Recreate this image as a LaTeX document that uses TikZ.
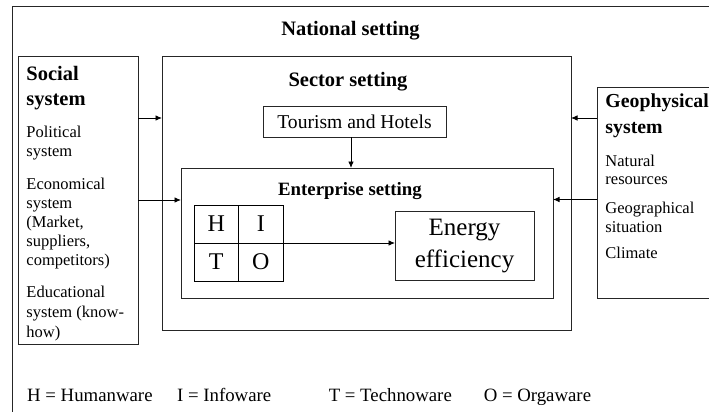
\documentclass[tikz,border=0pt]{standalone}
\usepackage{fontspec}
\setmainfont{Liberation Serif}
\usetikzlibrary{arrows.meta,positioning,calc}

\newcommand{\fsz}[2]{\fontsize{#1}{#2}\selectfont}

\begin{document}
\begin{tikzpicture}[x=1pt,y=-1pt,>={Latex[length=6.5pt,width=5.5pt]},line width=0.9pt,
  box/.style={draw=black!85,inner sep=0pt,outer sep=0pt,anchor=north west},
  cell/.style={draw,line width=1pt,minimum width=44.5pt,minimum height=38pt,
    inner sep=0pt,outer sep=0pt,font=\fsz{24}{28}},
  title/.style={font=\bfseries\fsz{20.5}{25},anchor=base,inner sep=0pt},
  head/.style={font=\bfseries\fsz{20.5}{25},align=left,anchor=base west,inner sep=0pt},
  small/.style={font=\fsz{16.5}{19},align=left,anchor=base west,inner sep=0pt},
  leg/.style={font=\fsz{18.8}{22},anchor=base west,inner sep=0pt}]

  \useasboundingbox (0,0) rectangle (709,412);
  \clip (0,0) rectangle (709,412);

  % frames
  \node[box, minimum width=720pt, minimum height=420pt] (nat) at (12.3,6.7) {};
  \node[box, minimum width=120pt, minimum height=288pt] (soc) at (18,56) {};
  \node[box, minimum width=409pt, minimum height=274pt] (sec) at (162,56) {};
  \node[box, minimum width=130pt, minimum height=211pt] (geo) at (597,87) {};
  \node[box, minimum width=183pt, minimum height=31pt, font=\fsz{19.6}{23}] (tour) at (263,106) {Tourism and Hotels};
  \node[box, minimum width=372pt, minimum height=130pt] (ent) at (181,168) {};
  \node[box, minimum width=139pt, minimum height=68.3pt, align=center, font=\fsz{25}{32}] (eng) at (395,211.7) {Energy\\efficiency};

  % HITO grid
  \node[cell, anchor=north west] (cH) at (194,205) {H};
  \node[cell, right=0pt of cH] (cI) {I};
  \node[cell, below=0pt of cH] (cT) {T};
  \node[cell, right=0pt of cT] (cO) {O};

  % titles (multi-line nodes sit on their last baseline)
  \node[title] (natT) at (350.5,36) {National setting};
  \node[title] (secT) at (348,86) {Sector setting};
  \node[title, font=\bfseries\fsz{18.8}{22}] (entT) at (350,195) {Enterprise setting};

  \node[head] (socT) at (26,105) {Social\\system};
  \node[small] (socP) at (26,156) {Political\\system};
  \node[small] (socE) at (26,265) {Economical\\system\\(Market,\\suppliers,\\competitors)};
  \node[small, font=\fsz{16.5}{20}] (socK) at (26,337) {Educational\\system (know-\\how)};

  \node[head, font=\bfseries\fsz{19.8}{26}] (geoT) at (605,133) {Geophysical\\system};
  \node[small, font=\fsz{16.5}{17.5}] (geoN) at (605,184) {Natural\\resources};
  \node[small] (geoG) at (605,232) {Geographical\\situation};
  \node[small] (geoC) at (605,258) {Climate};

  % connectors
  \coordinate (socA) at ([yshift=-62pt]soc.north east);
  \coordinate (geoA) at ([yshift=-31pt]geo.north west);
  \coordinate (geoB) at ([yshift=-112.5pt]geo.north west);
  \coordinate (tourS) at ([xshift=-3.5pt]tour.south);
  \draw[->] (socA) -- (socA -| sec.west);
  \draw[->] (soc.east) -- (soc.east -| ent.west);
  \draw[->] (geoA) -- (geoA -| sec.east);
  \draw[->] (geoB) -- (geoB -| ent.east);
  \draw[->] (tourS) -- (tourS |- ent.north);
  \draw[->] (cI.south east) -- (cI.south east -| eng.west);

  % legend
  \node[leg] (legH) at (26.7,401) {H = Humanware};
  \node[leg] (legI) at (176.7,401) {I = Infoware};
  \node[leg] (legT) at (328.3,401) {T = Technoware};
  \node[leg] (legO) at (483.3,401) {O = Orgaware};
\end{tikzpicture}
\end{document}
